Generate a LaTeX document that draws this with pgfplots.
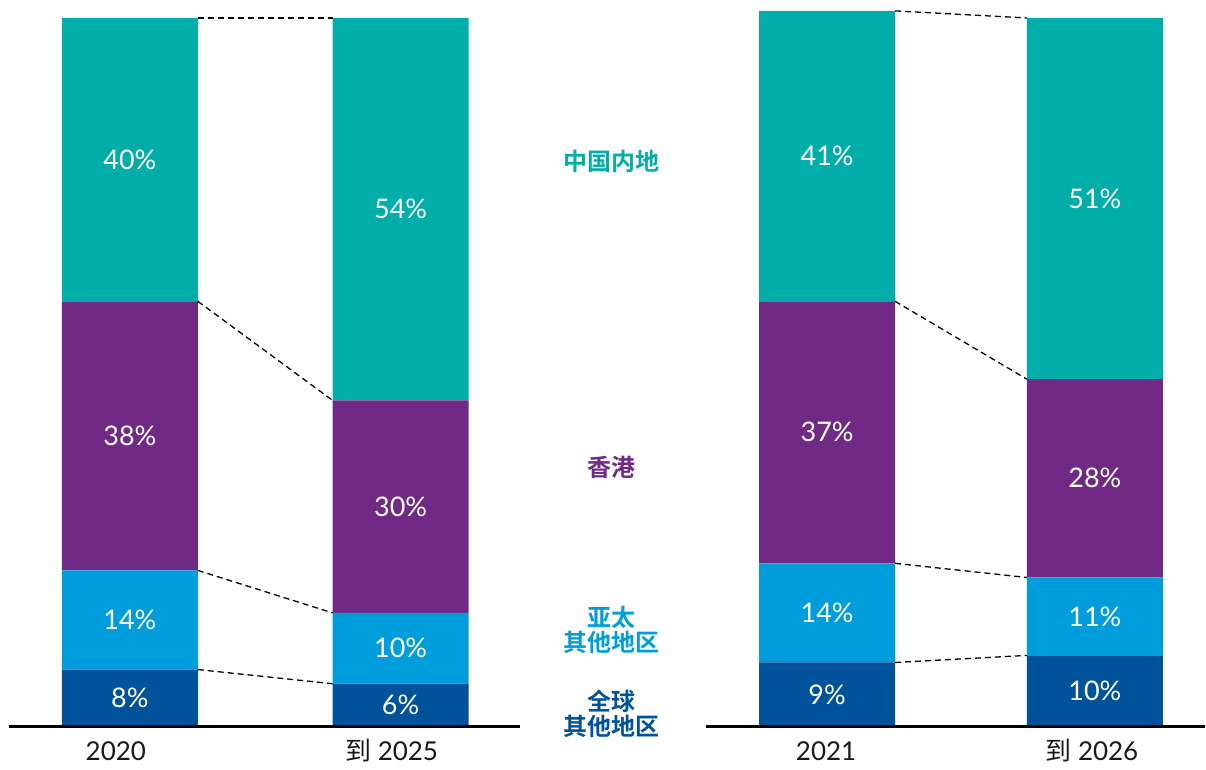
\documentclass[border=0pt]{standalone}
\usepackage{pgfplots}
\pgfplotsset{compat=1.18}
\usepackage{fontspec}
\setmainfont{Lato}
\newfontfamily\cjk{Noto Sans CJK SC}
\newfontfamily\cjkb{Noto Sans CJK SC Bold}
\definecolor{teal}{HTML}{00ADA8}
\definecolor{purp}{HTML}{702A85}
\definecolor{ltblue}{HTML}{009DDC}
\definecolor{dkblue}{HTML}{00529B}
\pgfplotsset{
  base/.style={
    width=603pt, height=382.5pt, scale only axis,
    xmin=0, xmax=1206, ymin=-5.36, ymax=102.54,
    hide axis, clip=false,
  },
  conn/.style={black, line width=0.65pt, dash pattern=on 3pt off 2pt, mark=none},
  baseline/.style={black, solid, line width=1.3pt, mark=none},
}
\begin{document}
\begin{tikzpicture}
\begin{axis}[base, ybar stacked, bar width=136]
\addplot[fill=dkblue, draw=none] coordinates {(130,8) (401,6) (828,9) (1096,10)};
\addplot[fill=ltblue, draw=none] coordinates {(130,14) (401,10) (828,14) (1096,11)};
\addplot[fill=purp, draw=none] coordinates {(130,38) (401,30) (828,37) (1096,28)};
\addplot[fill=teal, draw=none] coordinates {(130,40) (401,54) (828,41) (1096,51)};
\path (rel axis cs:0,0) rectangle (rel axis cs:1,1);
\end{axis}
\begin{axis}[base]
% connectors
\addplot[conn] coordinates {(198,8) (333,6)};
\addplot[conn] coordinates {(198,22) (333,16)};
\addplot[conn] coordinates {(198,60) (333,46)};
\addplot[conn] coordinates {(198,100) (333,100)};
\addplot[conn] coordinates {(896,9) (1028,10)};
\addplot[conn] coordinates {(896,23) (1028,21)};
\addplot[conn] coordinates {(896,60) (1028,49)};
\addplot[conn] coordinates {(896,101) (1028,100)};
\addplot[baseline] coordinates {(9,0) (521,0)};
\addplot[baseline] coordinates {(707,0) (1206,0)};
% percent labels
\begin{scope}[every node/.style={text=white, font=\fontsize{13.5}{15}\selectfont, anchor=center}]
\node at (axis cs:130,4) {8\%};
\node at (axis cs:130,15) {14\%};
\node at (axis cs:130,41) {38\%};
\node at (axis cs:130,80) {40\%};
\node at (axis cs:401,3) {6\%};
\node at (axis cs:401,11) {10\%};
\node at (axis cs:401,31) {30\%};
\node at (axis cs:401,73) {54\%};
\node at (axis cs:828,4.5) {9\%};
\node at (axis cs:828,16) {14\%};
\node at (axis cs:828,41.5) {37\%};
\node at (axis cs:828,80.5) {41\%};
\node at (axis cs:1096,5) {10\%};
\node at (axis cs:1096,15.5) {11\%};
\node at (axis cs:1096,35) {28\%};
\node at (axis cs:1096,74.5) {51\%};
\end{scope}
% year labels
\begin{scope}[every node/.style={text=black!90, font=\fontsize{13}{15}\selectfont, anchor=center}]
\node at (axis cs:116,-3.5) {2020};
\node at (axis cs:392,-3.5) {{\cjk 到} 2025};
\node at (axis cs:827,-3.5) {2021};
\node at (axis cs:1093,-3.5) {{\cjk 到} 2026};
\end{scope}
% category labels
\begin{scope}[every node/.style={font=\cjkb\fontsize{12}{12.5}\selectfont, anchor=center, align=center}]
\node[text=teal] at (axis cs:612,79.8) {中国内地};
\node[text=purp] at (axis cs:612,36.5) {香港};
\node[text=ltblue] at (axis cs:612,13.6) {亚太\\其他地区};
\node[text=dkblue] at (axis cs:612,1.8) {全球\\其他地区};
\end{scope}
\end{axis}
\end{tikzpicture}
\end{document}
